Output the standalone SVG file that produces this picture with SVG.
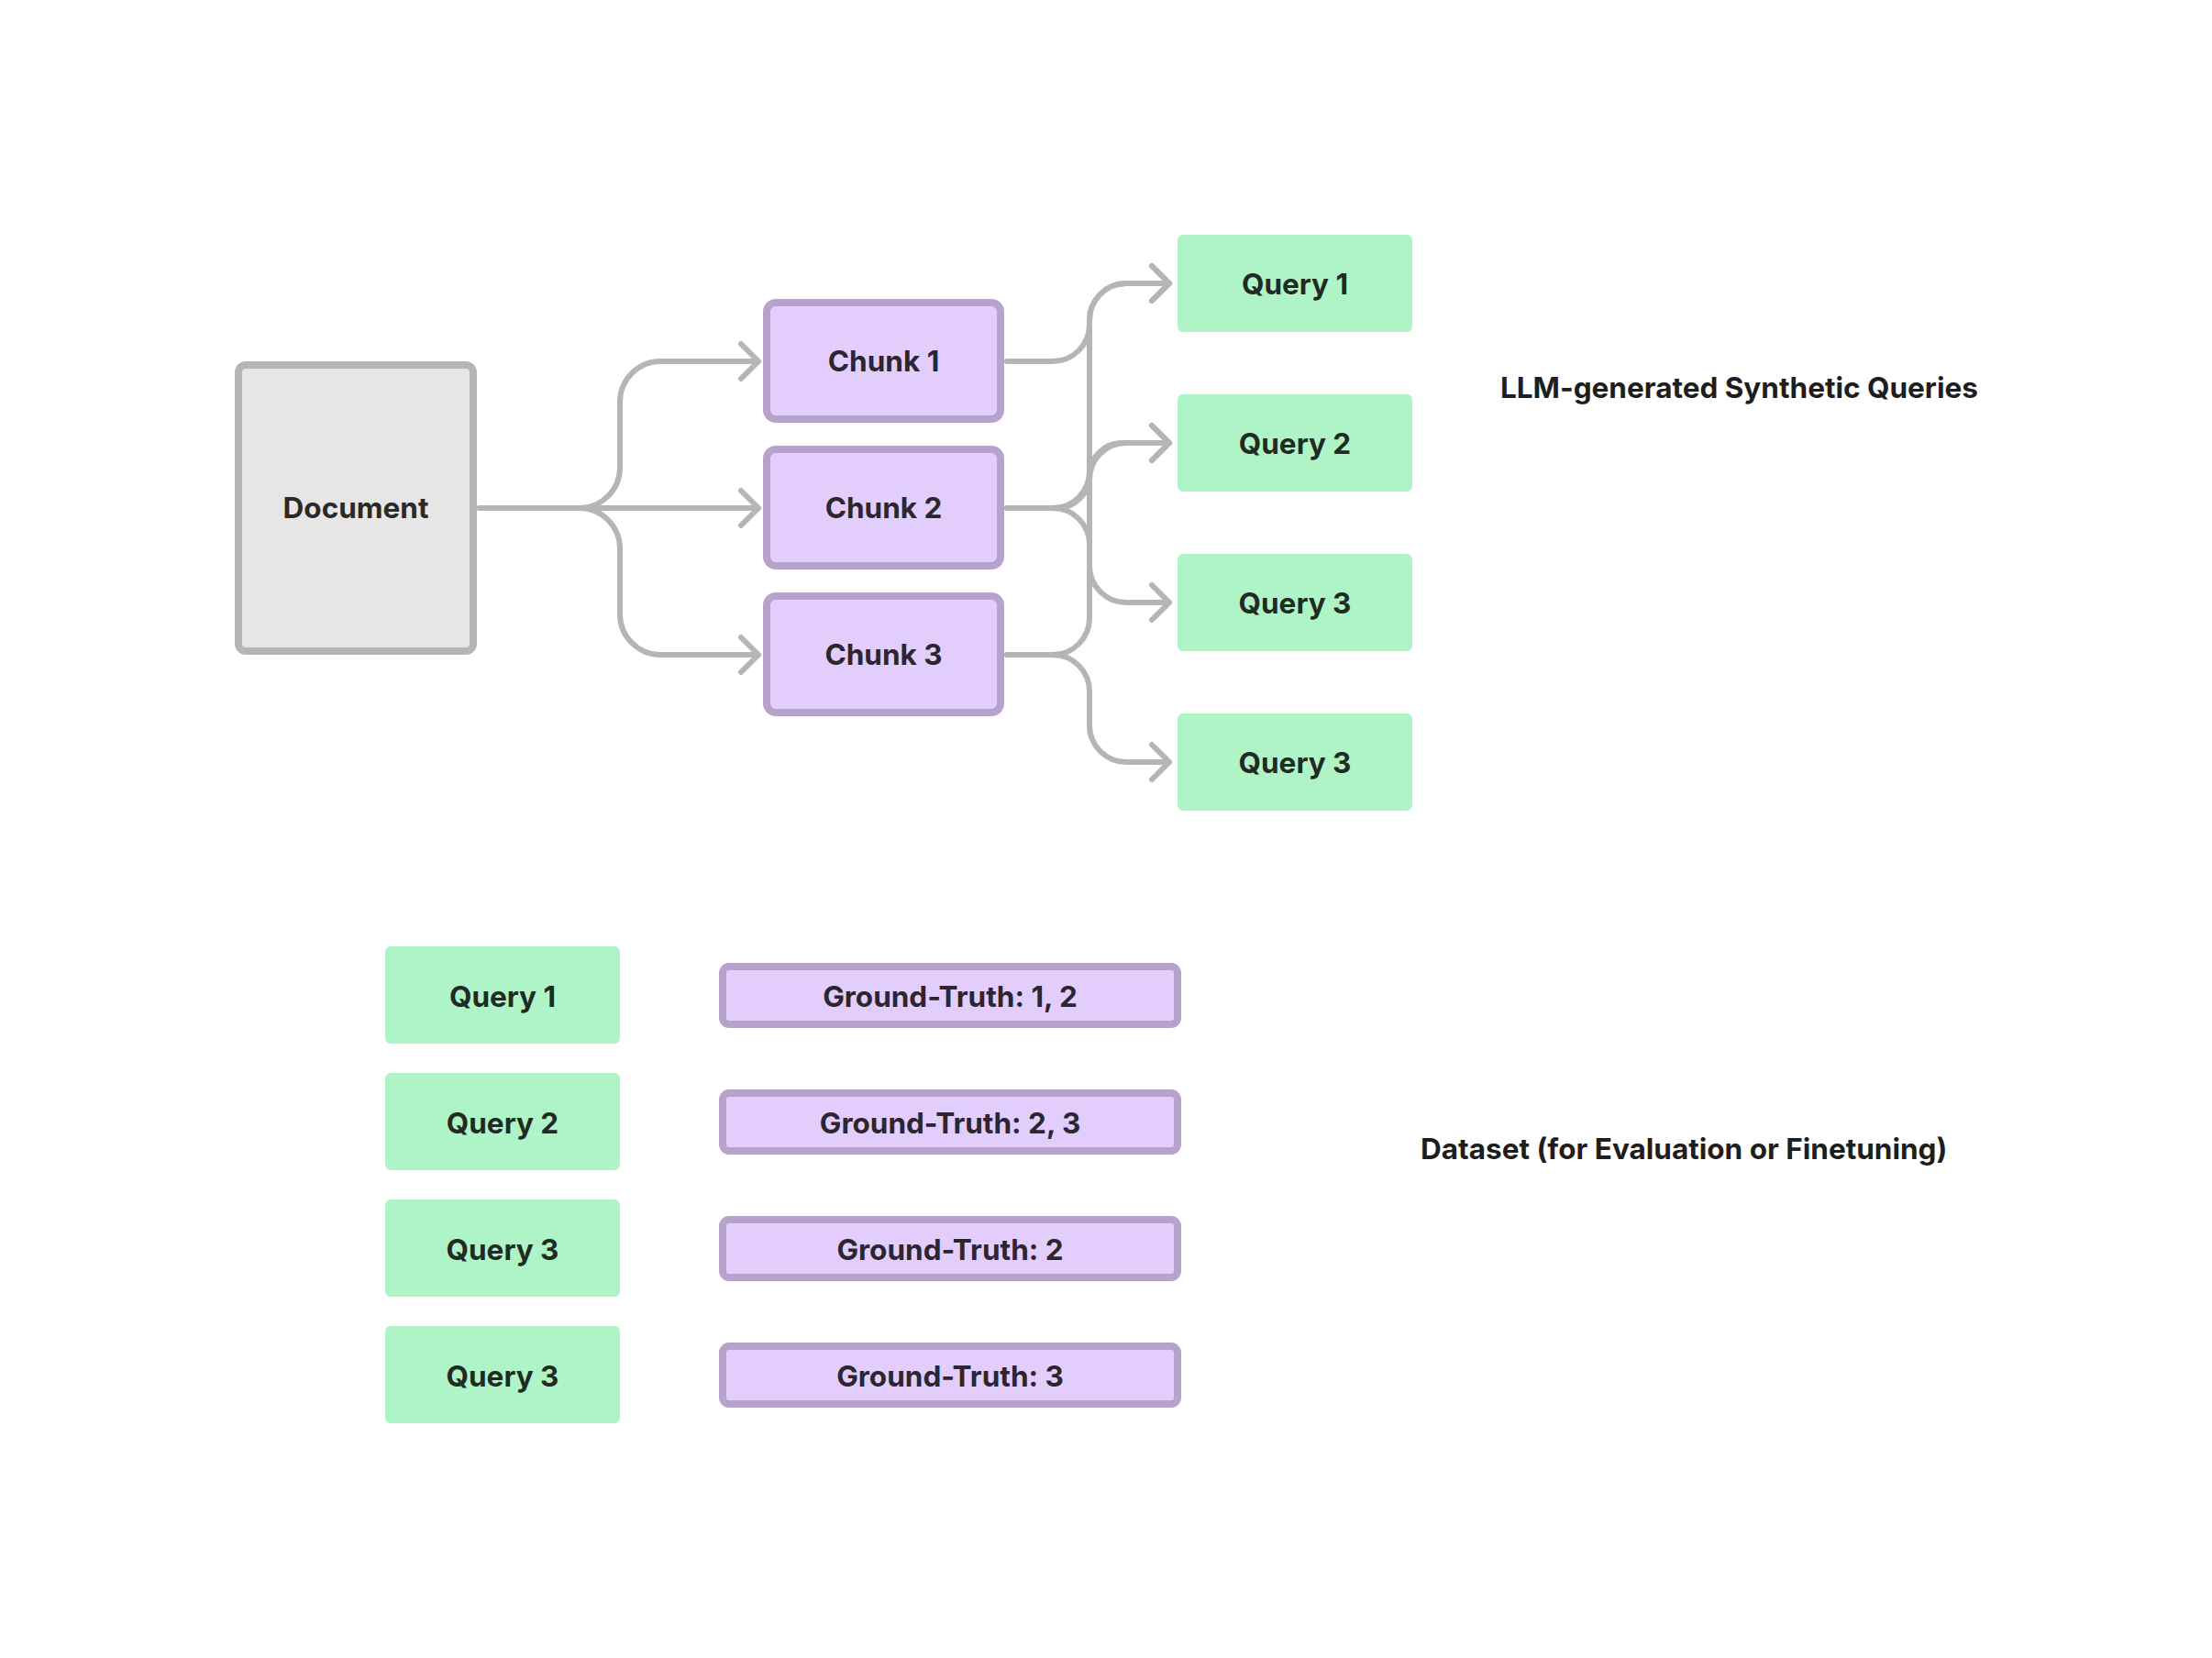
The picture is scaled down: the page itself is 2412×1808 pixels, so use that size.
<svg xmlns="http://www.w3.org/2000/svg" width="2412" height="1808" viewBox="0 0 2412 1808">
  <defs>
    <style>
      text { font-family: Inter, "Liberation Sans", sans-serif; font-size: 31.5px; font-weight: 700; }
      .lbl { text-anchor: middle; }
      .doc { fill: #e6e6e6; stroke: #b5b5b5; stroke-width: 8; }
      .chunk { fill: #e3cdfd; stroke: #b6a2cb; stroke-width: 8; }
      .query { fill: #aff4c7; }
      .tq { fill: #1f2b23; }
      .tp { fill: #2b2630; }
      .td { fill: #2a2a2a; }
      .caption { fill: #1e1e1e; }
      .conn { fill: none; stroke: #b5b5b5; stroke-width: 6; stroke-linecap: round; stroke-linejoin: round; }
    </style>
    <marker id="arr" markerUnits="userSpaceOnUse" viewBox="-30 -30 40 60" refX="0" refY="0" markerWidth="40" markerHeight="60" orient="auto" overflow="visible">
      <path d="M-19,-19 L0,0 L-19,19" fill="none" stroke="#b5b5b5" stroke-width="6" stroke-linecap="round" stroke-linejoin="round"/>
    </marker>
  </defs>
  <rect width="2412" height="1808" fill="#ffffff"/>

  <g id="connectors">
    <path class="conn" marker-end="url(#arr)" d="M523,554 H632 C656,554 676,534 676,510 V438 C676,414 696,394 720,394 H827"/>
    <path class="conn" marker-end="url(#arr)" d="M523,554 H827"/>
    <path class="conn" marker-end="url(#arr)" d="M523,554 H632 C656,554 676,574 676,598 V670 C676,694 696,714 720,714 H827"/>

    <path class="conn" marker-end="url(#arr)" d="M1098,394 H1148 C1170,394 1188,376 1188,354 V349 C1188,327 1206,309 1228,309 H1275"/>
    <path class="conn" marker-end="url(#arr)" d="M1098,554 H1148 C1170,554 1188,536 1188,514 V349 C1188,327 1206,309 1228,309 H1275"/>
    <path class="conn" marker-end="url(#arr)" d="M1098,554 H1152.5 C1172,554 1188,538 1188,518.5 C1188,499 1204,483 1223.5,483 H1275"/>
    <path class="conn" marker-end="url(#arr)" d="M1098,554 H1148 C1170,554 1188,572 1188,594 V617 C1188,639 1206,657 1228,657 H1275"/>
    <path class="conn" marker-end="url(#arr)" d="M1098,714 H1148 C1170,714 1188,696 1188,674 V523 C1188,501 1206,483 1228,483 H1275"/>
    <path class="conn" marker-end="url(#arr)" d="M1098,714 H1148 C1170,714 1188,732 1188,754 V791 C1188,813 1206,831 1228,831 H1275"/>
  </g>

  <g id="document">
    <rect class="doc" x="260" y="398" width="256" height="312" rx="8"/>
    <text class="lbl td" x="388" y="565">Document</text>
  </g>

  <g id="chunk1">
    <rect class="chunk" x="836" y="330" width="255" height="127" rx="10"/>
    <text class="lbl tp" x="963.5" y="405">Chunk 1</text>
  </g>
  <g id="chunk2">
    <rect class="chunk" x="836" y="490" width="255" height="127" rx="10"/>
    <text class="lbl tp" x="963.5" y="565">Chunk 2</text>
  </g>
  <g id="chunk3">
    <rect class="chunk" x="836" y="650" width="255" height="127" rx="10"/>
    <text class="lbl tp" x="963.5" y="725">Chunk 3</text>
  </g>

  <g id="gen-query1">
    <rect class="query" x="1284" y="256" width="256" height="106" rx="6"/>
    <text class="lbl tq" x="1412" y="321">Query 1</text>
  </g>
  <g id="gen-query2">
    <rect class="query" x="1284" y="430" width="256" height="106" rx="6"/>
    <text class="lbl tq" x="1412" y="495">Query 2</text>
  </g>
  <g id="gen-query3">
    <rect class="query" x="1284" y="604" width="256" height="106" rx="6"/>
    <text class="lbl tq" x="1412" y="669">Query 3</text>
  </g>
  <g id="gen-query4">
    <rect class="query" x="1284" y="778" width="256" height="106" rx="6"/>
    <text class="lbl tq" x="1412" y="843">Query 3</text>
  </g>

  <g id="caption-llm">
    <text class="caption" x="1636" y="434">LLM-generated Synthetic Queries</text>
  </g>

  <g id="ds-query1">
    <rect class="query" x="420" y="1032" width="256" height="106" rx="6"/>
    <text class="lbl tq" x="548" y="1098">Query 1</text>
  </g>
  <g id="ds-query2">
    <rect class="query" x="420" y="1170" width="256" height="106" rx="6"/>
    <text class="lbl tq" x="548" y="1236">Query 2</text>
  </g>
  <g id="ds-query3">
    <rect class="query" x="420" y="1308" width="256" height="106" rx="6"/>
    <text class="lbl tq" x="548" y="1374">Query 3</text>
  </g>
  <g id="ds-query4">
    <rect class="query" x="420" y="1446" width="256" height="106" rx="6"/>
    <text class="lbl tq" x="548" y="1512">Query 3</text>
  </g>

  <g id="gt1">
    <rect class="chunk" x="788" y="1054" width="496" height="63" rx="7"/>
    <text class="lbl tp" x="1036" y="1098">Ground-Truth: 1, 2</text>
  </g>
  <g id="gt2">
    <rect class="chunk" x="788" y="1192" width="496" height="63" rx="7"/>
    <text class="lbl tp" x="1036" y="1236">Ground-Truth: 2, 3</text>
  </g>
  <g id="gt3">
    <rect class="chunk" x="788" y="1330" width="496" height="63" rx="7"/>
    <text class="lbl tp" x="1036" y="1374">Ground-Truth: 2</text>
  </g>
  <g id="gt4">
    <rect class="chunk" x="788" y="1468" width="496" height="63" rx="7"/>
    <text class="lbl tp" x="1036" y="1512">Ground-Truth: 3</text>
  </g>

  <g id="caption-dataset">
    <text class="caption" x="1549" y="1264">Dataset (for Evaluation or Finetuning)</text>
  </g>
</svg>
